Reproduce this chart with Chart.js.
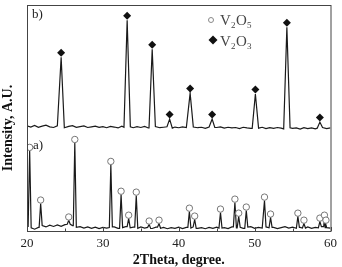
<!DOCTYPE html>
<html>
<head>
<meta charset="utf-8">
<script src="https://cdn.jsdelivr.net/npm/chart.js@4.4.1/dist/chart.umd.min.js"></script>
<style>
html, body { margin: 0; padding: 0; background: #fff; }
</style>
</head>
<body>
<canvas id="xrd" width="342" height="267"></canvas>
<script>
// baseline samples, every 0.5 degree from 20 to 60
const baseStart = 20, baseStep = 0.5;

// a) V2O5 sample - noise floor
const aBase = [
  2.0, 1.4, 0.8, 1.6, 2.4, 1.8, 2.6, 2.0, 2.7, 2.1,
  2.8, 3.0, 2.4, 1.6, 1.9, 1.3, 1.8, 1.2, 1.7, 1.1,
  1.6, 1.3, 1.5, 1.8, 1.2, 1.5, 1.9, 1.4, 1.7, 1.2,
  1.8, 1.3, 1.6, 1.1, 1.7, 1.2, 1.6, 1.0, 1.5, 1.2,
  1.7, 1.1, 1.6, 1.3, 1.8, 1.2, 1.5, 1.0, 1.6, 1.2,
  1.7, 1.3, 1.5, 1.1, 1.8, 1.4, 1.6, 1.2, 1.7, 1.9,
  1.2, 1.6, 1.3, 1.8, 1.4, 1.6, 1.1, 1.5, 1.9, 1.3,
  1.7, 1.2, 1.6, 1.3, 1.8, 1.2, 1.6, 1.4, 1.9, 1.5,
  1.3
];
const aPeakPos  = [20.35, 21.8, 25.5, 26.3, 31.05, 32.4, 33.4, 34.4, 36.1, 37.4, 41.4, 42.1,
                   45.5, 47.4, 47.9, 48.9, 51.3, 52.1, 55.7, 56.5, 58.6, 59.2, 59.4];
const aPeakTop  = [35.5, 12.2, 4.7, 39.0, 29.3, 16.1, 5.5, 15.7, 2.9, 3.3, 8.6, 5.1,
                   8.2, 12.6, 6.4, 9.1, 13.5, 6.0, 6.4, 3.3, 4.2, 5.5, 3.3];
const aPeakHalf = [0.2, 0.2, 0.2, 0.2, 0.2, 0.2, 0.2, 0.2, 0.2, 0.2, 0.2, 0.2,
                   0.2, 0.2, 0.2, 0.2, 0.2, 0.2, 0.2, 0.2, 0.2, 0.1, 0.1];
const aMarkY    = [37.0, 13.7, 6.2, 40.5, 30.8, 17.6, 7.0, 17.2, 4.4, 4.8, 10.1, 6.6,
                   9.7, 14.1, 7.9, 10.6, 15.0, 7.5, 7.9, 4.8, 5.7, 7.0, 4.8];

// b) V2O3 sample
const bBase = [
  46.5, 46.0, 46.7, 45.9, 46.4, 46.8, 46.1, 45.8, 46.5, 46.2,
  45.7, 46.3, 46.6, 45.9, 46.2, 46.5, 45.8, 46.1, 46.4, 45.9,
  46.2, 45.7, 46.3, 46.0, 45.6, 46.4, 45.9, 46.1, 45.7, 46.2,
  45.8, 46.3, 45.6, 46.0, 46.2, 45.7, 45.9, 46.1, 45.5, 46.0,
  45.7, 46.1, 45.8, 45.5, 46.0, 45.7, 45.9, 45.4, 46.0, 45.6,
  45.8, 46.1, 45.5, 45.9, 45.6, 45.8, 45.3, 45.9, 45.6, 45.4,
  45.8, 45.5, 45.9, 45.3, 45.7, 45.4, 45.8, 45.5, 45.2, 45.7,
  45.4, 45.6, 45.1, 45.7, 45.3, 45.6, 45.2, 45.5, 45.8, 45.3,
  45.6
];
const bPeakPos  = [24.5, 33.2, 36.5, 38.8, 41.5, 44.4, 50.1, 54.25, 58.6];
const bPeakTop  = [76.9, 93.2, 80.4, 49.5, 61.0, 49.5, 60.6, 90.1, 48.2];
const bPeakHalf = [0.42, 0.42, 0.42, 0.35, 0.42, 0.35, 0.42, 0.42, 0.35];
const bMarkY    = [78.9, 95.2, 82.4, 51.5, 63.0, 51.5, 62.6, 92.1, 50.2];

const xMajor = [20, 30, 40, 50, 60];
const xMinor = [25, 35, 45, 55];

const serif = '"Liberation Serif", "DejaVu Serif", serif';

// baseline + peaks (foot, top, foot) -> one sorted line
function buildTrace(base, pos, top, half) {
    const pts = [];
    base.forEach((y, i) => {
        const x = baseStart + i * baseStep;
        if (pos.some((p, k) => Math.abs(x - p) < half[k])) return;
        pts.push({ x: x, y: y });
    });
    pos.forEach((p, k) => {
        const l = p - half[k], r = p + half[k];
        pts.push({ x: l, y: base[Math.round((l - baseStart) / baseStep)] });
        pts.push({ x: p, y: top[k] });
        pts.push({ x: r, y: base[Math.round((r - baseStart) / baseStep)] });
    });
    pts.sort((a, b) => a.x - b.x);
    return pts;
}

const framePlugin = {
    id: 'framePlugin',
    afterDraw(chart) {
        const { ctx, chartArea: a, scales } = chart;
        ctx.save();
        ctx.strokeStyle = '#444';
        ctx.lineWidth = 1;
        ctx.strokeRect(a.left + 0.5, a.top + 0.5, a.right - a.left, a.bottom - a.top);
        // inward ticks on the bottom axis
        ctx.beginPath();
        xMajor.forEach(v => {
            const px = Math.round(scales.x.getPixelForValue(v)) + 0.5;
            ctx.moveTo(px, a.bottom); ctx.lineTo(px, a.bottom - 4);
        });
        xMinor.forEach(v => {
            const px = Math.round(scales.x.getPixelForValue(v)) + 0.5;
            ctx.moveTo(px, a.bottom); ctx.lineTo(px, a.bottom - 2.5);
        });
        ctx.stroke();

        // y title
        ctx.fillStyle = '#111';
        ctx.font = 'bold 14px ' + serif;
        ctx.textAlign = 'center';
        ctx.textBaseline = 'middle';
        ctx.translate(8, 128);
        ctx.rotate(-Math.PI / 2);
        ctx.fillText('Intensity, A.U.', 0, 0);
        ctx.restore();

        // panel labels
        ctx.save();
        ctx.fillStyle = '#222';
        ctx.font = '13px ' + serif;
        ctx.textAlign = 'left';
        ctx.textBaseline = 'alphabetic';
        ctx.fillText('b)', a.left + 5, a.top + 13);
        ctx.fillText('a)', a.left + 6, 149);

        // legend
        const lx = 211;
        ctx.strokeStyle = '#888';
        ctx.fillStyle = '#fff';
        ctx.beginPath(); ctx.arc(lx, 20, 2.5, 0, Math.PI * 2); ctx.fill(); ctx.stroke();
        ctx.fillStyle = '#111';
        ctx.beginPath();
        ctx.moveTo(lx + 2, 35.5); ctx.lineTo(lx + 6.5, 40); ctx.lineTo(lx + 2, 44.5); ctx.lineTo(lx - 2.5, 40);
        ctx.closePath(); ctx.fill();

        ctx.fillStyle = '#444';
        [['5', 25], ['3', 46]].forEach(([n, y]) => {
            ctx.font = '15px ' + serif;
            ctx.fillText('V', 220, y);
            ctx.font = '9px ' + serif;
            ctx.fillText('2', 231, y + 3);
            ctx.font = '15px ' + serif;
            ctx.fillText('O', 236, y);
            ctx.font = '9px ' + serif;
            ctx.fillText(n, 247, y + 3);
        });
        ctx.restore();
    }
};

new Chart(document.getElementById('xrd'), {
    type: 'scatter',
    data: {
        datasets: [
            {
                label: 'V2O3',
                data: bPeakPos.map((x, i) => ({ x: x, y: bMarkY[i] })),
                pointStyle: 'rectRot',
                pointRadius: 4,
                backgroundColor: '#111',
                borderColor: '#111',
                borderWidth: 0
            },
            {
                label: 'V2O5',
                data: aPeakPos.map((x, i) => ({ x: x, y: aMarkY[i] })),
                pointStyle: 'circle',
                pointRadius: 3.2,
                backgroundColor: '#fff',
                borderColor: '#777',
                borderWidth: 1
            },
            {
                label: 'b',
                data: buildTrace(bBase, bPeakPos, bPeakTop, bPeakHalf),
                showLine: true,
                pointRadius: 0,
                borderColor: '#1a1a1a',
                borderWidth: 1.2
            },
            {
                label: 'a',
                data: buildTrace(aBase, aPeakPos, aPeakTop, aPeakHalf),
                showLine: true,
                pointRadius: 0,
                borderColor: '#1a1a1a',
                borderWidth: 1.2
            }
        ]
    },
    options: {
        responsive: false,
        animation: false,
        layout: { padding: { top: 4, right: 9, left: 27, bottom: 0 } },
        plugins: {
            legend: { display: false },
            tooltip: { enabled: false }
        },
        scales: {
            x: {
                type: 'linear',
                min: 20, max: 60,
                grid: { display: false, drawTicks: false },
                border: { display: false },
                ticks: {
                    stepSize: 10,
                    padding: 5,
                    color: '#222',
                    font: { family: serif, size: 13 }
                },
                title: {
                    display: true,
                    text: '2Theta, degree.',
                    color: '#111',
                    padding: { top: 0, bottom: 0 },
                    font: { family: serif, size: 14, weight: 'bold', lineHeight: 1 }
                },
                afterFit: s => { s.height = 36; }
            },
            y: {
                display: false,
                min: 0, max: 100
            }
        }
    },
    plugins: [framePlugin]
});
</script>
</body>
</html>
